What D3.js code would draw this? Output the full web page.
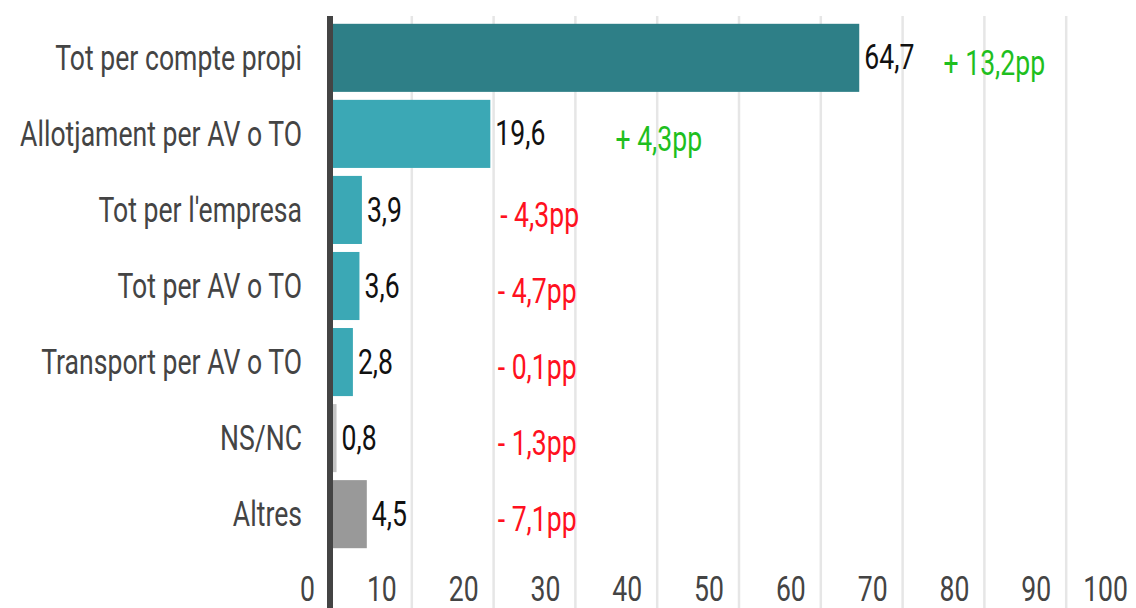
<!DOCTYPE html>
<html>
<head>
<meta charset="utf-8">
<script src="https://cdn.jsdelivr.net/npm/d3@7"></script>
<style>
  body { margin: 0; background: #fff; }
  svg { display: block; font-family: Roboto, "DejaVu Sans", sans-serif; }
</style>
</head>
<body>
<svg id="chart"></svg>
<script>
// Data
const categories = ["Tot per compte propi", "Allotjament per AV o TO", "Tot per l'empresa",
  "Tot per AV o TO", "Transport per AV o TO", "NS/NC", "Altres"];
const values = [64.7, 19.6, 3.9, 3.6, 2.8, 0.8, 4.5];
const valueLabels = ["64,7", "19,6", "3,9", "3,6", "2,8", "0,8", "4,5"];
const changes = [13.2, 4.3, -4.3, -4.7, -0.1, -1.3, -7.1];
const changeLabels = ["+ 13,2pp", "+ 4,3pp", "- 4,3pp", "- 4,7pp", "- 0,1pp", "- 1,3pp", "- 7,1pp"];
const barColors = ["#2e7f87", "#3ba8b5", "#3ba8b5", "#3ba8b5", "#3ba8b5", "#c4c4c4", "#999999"];
const xTicks = [0, 10, 20, 30, 40, 50, 60, 70, 80, 90, 100];

// where the change annotations sit (axis units)
const changeAt = [75, 34.9, 20.8, 20.5, 20.5, 20.5, 20.5];

const width = 1136, height = 608;
const fontSize = 35;
const svg = d3.select("#chart").attr("width", width).attr("height", height);

const x = d3.scaleLinear().domain([0, 100]).range([330, 1148]);
const y = d3.scaleBand().domain(categories).range([20, 552]).paddingInner(0.105).paddingOuter(0.05);

// the reference uses a narrow face; squeeze a normal one horizontally
const probe = svg.append("text").attr("font-size", fontSize).text(categories[1]);
const sx = 282 / probe.node().getComputedTextLength();
probe.remove();

function place(sel, fx, fy) {
  return sel.attr("transform", (d, i) => `translate(${fx(d, i)},${fy(d, i)}) scale(${sx},1)`);
}

// gridlines
svg.append("g").selectAll("line")
  .data(xTicks.slice(1))
  .join("line")
  .attr("x1", d => x(d)).attr("x2", d => x(d))
  .attr("y1", 16).attr("y2", height)
  .attr("stroke", "#e6e6e6").attr("stroke-width", 2.5);

// tick labels
place(svg.append("g").selectAll("text")
  .data(xTicks)
  .join("text"), d => Math.min(x(d) - 15, 1128), () => 601)
  .attr("text-anchor", "end")
  .attr("fill", "#444")
  .attr("font-size", fontSize)
  .text(d => d);

// bars
svg.append("g").selectAll("rect")
  .data(categories)
  .join("rect")
  .attr("x", x(0))
  .attr("y", d => y(d))
  .attr("width", (d, i) => x(values[i]) - x(0))
  .attr("height", y.bandwidth())
  .attr("fill", (d, i) => barColors[i]);

// category labels
place(svg.append("g").selectAll("text")
  .data(categories)
  .join("text"), () => 302, d => y(d) + y.bandwidth() / 2)
  .attr("dy", "0.35em")
  .attr("text-anchor", "end")
  .attr("fill", "#444")
  .attr("font-size", fontSize)
  .text(d => d);

// value labels
place(svg.append("g").selectAll("text")
  .data(categories)
  .join("text"), (d, i) => x(values[i]) + 5, d => y(d) + y.bandwidth() / 2)
  .attr("dy", "0.33em")
  .attr("fill", "#111")
  .attr("font-size", fontSize)
  .text((d, i) => valueLabels[i]);

// change annotations
place(svg.append("g").selectAll("text")
  .data(categories)
  .join("text"), (d, i) => x(changeAt[i]), d => y(d) + y.bandwidth() / 2 + 5)
  .attr("dy", "0.35em")
  .attr("fill", (d, i) => changes[i] >= 0 ? "#1fbf1f" : "#ff1020")
  .attr("font-size", fontSize)
  .text((d, i) => changeLabels[i]);

// vertical axis line
svg.append("line")
  .attr("x1", x(0)).attr("x2", x(0))
  .attr("y1", 16).attr("y2", height)
  .attr("stroke", "#444").attr("stroke-width", 6);
</script>
</body>
</html>
